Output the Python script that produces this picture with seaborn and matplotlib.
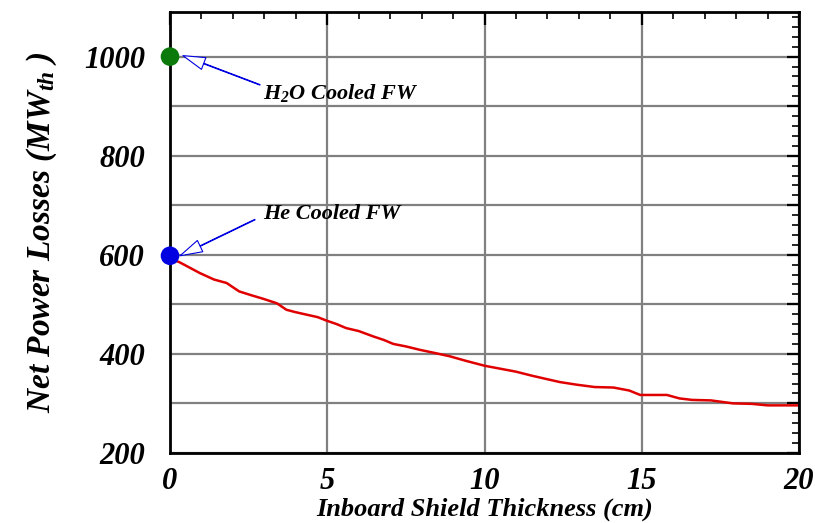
import numpy as np
import pandas as pd
import matplotlib
matplotlib.use("Agg")
import matplotlib.pyplot as plt
from matplotlib.ticker import MultipleLocator, FuncFormatter
import seaborn as sns

# shield thickness (cm) vs net power losses (MWth)
thickness = [0.0, 0.3, 0.95, 1.4, 1.8, 2.2, 2.6, 2.97, 3.4, 3.7, 4.0, 4.35, 4.7,
             4.98, 5.3, 5.6, 6.0, 6.47, 6.8, 7.1, 7.5, 7.95, 8.4, 8.9, 9.4,
             10.0, 10.5, 11.0, 11.5, 11.98, 12.4, 12.9, 13.5, 14.1, 14.6,
             14.95, 15.4, 15.8, 16.2, 16.6, 17.2, 17.9, 18.5, 19.0, 19.5, 20.0]
losses = [592, 585, 563, 550, 543, 526, 518, 511, 502, 489, 484, 479, 474,
          467, 460, 452, 446, 435, 428, 420, 415, 408, 402, 395, 386,
          376, 370, 364, 356, 349, 343, 338, 333, 332, 326,
          317, 317, 317, 310, 307, 306, 300, 299, 296, 296, 296]

fw_names = ["H2O Cooled FW", "He Cooled FW"]
fw_x = [0.0, 0.0]
fw_y = [1000, 598]
fw_colors = ["#0b7a0b", "#0000e0"]

sns.set_style("white")
plt.rcParams["font.family"] = ["Liberation Serif", "DejaVu Serif"]
plt.rcParams["text.color"] = "black"
plt.rcParams["axes.labelcolor"] = "black"
plt.rcParams["xtick.color"] = "black"
plt.rcParams["ytick.color"] = "black"
plt.rcParams["mathtext.fontset"] = "custom"
plt.rcParams["mathtext.rm"] = "Liberation Serif:italic:bold"
plt.rcParams["mathtext.it"] = "Liberation Serif:italic:bold"
plt.rcParams["mathtext.bf"] = "Liberation Serif:italic:bold"

df = pd.DataFrame({"thickness": thickness, "losses": losses})
fw = pd.DataFrame({"name": fw_names, "x": fw_x, "y": fw_y})

fig = plt.figure(figsize=(8.15, 5.23), dpi=100)
ax = fig.add_axes([0.2086, 0.134, 0.7718, 0.843])

sns.lineplot(data=df, x="thickness", y="losses", color="#e00000", lw=1.8, ax=ax)
sns.scatterplot(data=fw, x="x", y="y", hue="name", palette=fw_colors, s=180,
                edgecolor="none", legend=False, clip_on=False, zorder=5, ax=ax)

ax.set_xlim(0, 20)
ax.set_ylim(200, 1090)

ax.xaxis.set_major_locator(MultipleLocator(5))
ax.xaxis.set_minor_locator(MultipleLocator(1))
ax.yaxis.set_major_locator(MultipleLocator(100))
ax.yaxis.set_minor_locator(MultipleLocator(20))
ax.yaxis.set_major_formatter(FuncFormatter(lambda v, p: "%d" % v if v % 200 == 0 else ""))

ax.grid(True, which="major", color="#808080", lw=1.6)
ax.tick_params(which="both", direction="in", top=True, right=True, color="black")
ax.tick_params(which="major", length=9, width=1.6)
ax.tick_params(which="minor", length=5, width=1.2)
ax.tick_params(axis="y", which="major", pad=18, labelsize=22)
ax.tick_params(axis="x", which="major", pad=10, labelsize=22)
for lab in ax.get_xticklabels() + ax.get_yticklabels():
    lab.set_fontstyle("italic")
    lab.set_fontweight("bold")
for sp in ax.spines.values():
    sp.set_visible(True)
    sp.set_color("black")
    sp.set_linewidth(2)

ax.set_xlabel("Inboard Shield Thickness (cm)", fontsize=19, fontstyle="italic",
              fontweight="bold", labelpad=1)
ax.set_ylabel(r"Net Power Losses (MW$_{th}$ )", fontsize=24, fontstyle="italic",
              fontweight="bold", labelpad=18)

arrow = dict(facecolor="white", edgecolor="#0000e0", width=0.4, headwidth=9,
             headlength=16, lw=0.8, shrink=0)
ax.annotate("", xy=(0.41, 1002), xytext=(2.86, 943), arrowprops=arrow)
ax.annotate("", xy=(0.32, 598), xytext=(2.7, 671), arrowprops=arrow)
ax.text(2.95, 926, r"H$_2$O Cooled FW", fontsize=16, fontstyle="italic",
        fontweight="bold", va="center", ha="left")
ax.text(2.95, 683, "He Cooled FW", fontsize=16, fontstyle="italic",
        fontweight="bold", va="center", ha="left")

fig.savefig("out.png", dpi=100)
